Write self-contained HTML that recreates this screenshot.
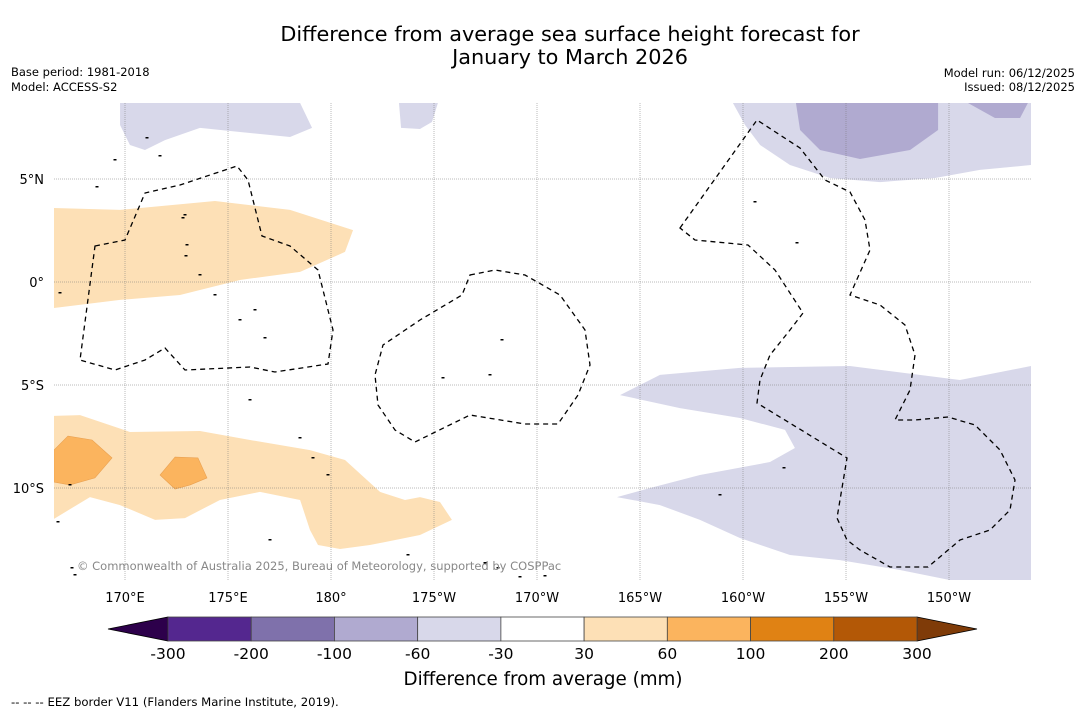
<!DOCTYPE html>
<html><head><meta charset="utf-8">
<style>
body{margin:0;background:#fff;width:1085px;height:713px;overflow:hidden;font-family:"DejaVu Sans","Liberation Sans",sans-serif;}
svg text{font-family:"DejaVu Sans","Liberation Sans",sans-serif;}
</style></head>
<body>
<svg id="chart" width="1085" height="713" viewBox="0 0 1085 713">
<text x="570" y="41" font-size="20.8" text-anchor="middle">Difference from average sea surface height forecast for</text>
<text x="570" y="64" font-size="20.8" text-anchor="middle">January to March 2026</text>
<text x="11" y="76" font-size="11.5">Base period: 1981-2018</text>
<text x="11" y="91" font-size="11.5">Model: ACCESS-S2</text>
<text x="1075" y="77" font-size="11.5" text-anchor="end">Model run: 06/12/2025</text>
<text x="1075" y="91" font-size="11.5" text-anchor="end">Issued: 08/12/2025</text>
<g id="map"></g>
<g id="cbar"></g>
<text x="543" y="685" font-size="18.3" text-anchor="middle">Difference from average (mm)</text>
<text x="11" y="706" font-size="11.7">--  --  -- EEZ border V11 (Flanders Marine Institute, 2019).</text>
</svg>
<script>
const NS='http://www.w3.org/2000/svg';
const lonTicks=[170,175,180,185,190,195,200,205,210];
const lonLabels=['170°E','175°E','180°','175°W','170°W','165°W','160°W','155°W','150°W'];
const latTicks=[5,0,-5,-10];
const latLabels=['5°N','0°','5°S','10°S'];
const cbLevels=['-300','-200','-100','-60','-30','30','60','100','200','300'];
const cbColors=['#54278f','#7f71ab','#b0aad0','#d8d8ea','#ffffff','#fde0b6','#fbb45e','#e08214','#b35806'];
const fillLightOrange=[[166.55,3.59],[169.76,3.50],[174.37,3.93],[178.01,3.50],[181.07,2.52],[180.68,1.46],[178.5,0.49],[175.58,0.10],[172.67,-0.63],[169.76,-0.87],[166.55,-1.26]];
const fillLightOrange2=[[166.55,-6.50],[167.82,-6.46],[170.24,-7.28],[173.64,-7.23],[176.07,-7.67],[178.98,-8.16],[180.68,-8.64],[182.38,-10.19],[183.59,-10.58],[184.32,-10.44],[185.29,-10.68],[185.87,-11.55],[184.32,-12.28],[181.89,-12.77],[180.44,-12.96],[179.37,-12.77],[178.98,-12.04],[178.5,-10.58],[176.55,-10.19],[174.61,-10.58],[172.91,-11.46],[171.46,-11.55],[169.76,-10.83],[168.30,-10.44],[166.55,-11.50]];
const fillOrangeA=[[166.55,-8.16],[167.23,-7.48],[168.40,-7.67],[169.37,-8.54],[168.54,-9.51],[167.33,-9.85],[166.55,-9.71]];
const fillOrangeB=[[171.70,-9.37],[172.43,-8.50],[173.54,-8.54],[173.98,-9.51],[173.16,-9.85],[172.43,-10.05]];
const fillLilac1=[[169.76,8.69],[178.5,8.69],[179.08,7.48],[178.01,7.04],[175.58,7.28],[173.64,7.48],[171.94,6.89],[170.97,6.41],[170.24,6.65],[169.76,7.62]];
const fillLilac2=[[183.30,8.69],[185.19,8.69],[184.90,7.77],[184.32,7.43],[183.40,7.48]];
const fillLilac3=[[199.51,8.69],[213.98,8.69],[213.98,5.68],[211.50,5.44],[209.32,5.05],[206.65,4.85],[204.22,5.05],[202.28,5.68],[200.83,6.65],[200.10,7.62]];
const fillLilac4=[[194.03,-5.49],[195.97,-4.51],[199.85,-4.17],[205.19,-4.08],[210.53,-4.76],[213.98,-4.08],[213.98,-14.47],[210.05,-14.47],[207.62,-13.98],[204.71,-13.50],[202.28,-13.25],[199.85,-12.43],[197.91,-11.55],[195.97,-10.83],[193.88,-10.44],[195.49,-10.0],[197.91,-9.37],[201.31,-8.74],[202.52,-8.06],[202.04,-7.18],[199.85,-6.60],[196.94,-6.12]];
const fillPurple1=[[202.57,8.69],[209.47,8.69],[209.47,7.38],[208.11,6.41],[205.68,5.97],[203.74,6.41],[202.77,7.38]];
const fillPurple2=[[210.92,8.69],[213.83,8.69],[213.45,7.96],[212.23,7.96]];
const X=lon=>125+(lon-170)*20.6;
const Y=lat=>282-lat*20.6;
const map=document.getElementById('map');
function mk(tag,attrs,parent){const e=document.createElementNS(NS,tag);for(const k in attrs)e.setAttribute(k,attrs[k]);(parent||map).appendChild(e);return e;}
const cp=mk('clipPath',{id:'clip'});mk('rect',{x:54,y:103,width:977,height:477},cp);
const g=mk('g',{'clip-path':'url(#clip)'});
function poly(pts,fill,name){const p=mk('polygon',{points:pts.map(q=>X(q[0])+','+Y(q[1])).join(' '),fill:fill,stroke:fill==='#fbb45e'?'#e9a050':'none','stroke-width':0.6},g);

}
poly(fillLightOrange,'#fde0b6','anomaly-30-60-north');
poly(fillLightOrange2,'#fde0b6','anomaly-30-60-south');
poly(fillOrangeA,'#fbb45e','anomaly-60-100-a');
poly(fillOrangeB,'#fbb45e','anomaly-60-100-b');
poly(fillLilac1,'#d8d8ea','anomaly-neg30-60-nw');
poly(fillLilac2,'#d8d8ea','anomaly-neg30-60-small');
poly(fillLilac3,'#d8d8ea','anomaly-neg30-60-ne');
poly(fillLilac4,'#d8d8ea','anomaly-neg30-60-se');
poly(fillPurple1,'#b0aad0','anomaly-neg60-100-a');
poly(fillPurple2,'#b0aad0','anomaly-neg60-100-b');
lonTicks.forEach((lo,i)=>{const l=mk('line',{x1:X(lo),x2:X(lo),y1:103,y2:580,stroke:'#777','stroke-width':0.5,'stroke-dasharray':'1,1'},g);


const t=mk('text',{x:X(lo),y:602,'font-size':13,'text-anchor':'middle'});t.textContent=lonLabels[i];

});
latTicks.forEach((la,i)=>{const l=mk('line',{x1:54,x2:1031,y1:Y(la),y2:Y(la),stroke:'#777','stroke-width':0.5,'stroke-dasharray':'1,1'},g);


const t=mk('text',{x:44,y:Y(la)+5,'font-size':13,'text-anchor':'end'});t.textContent=latLabels[i];

});
const eez=['M95,246 L125,240 L145,193 L180,185 L237,166 L248,180 L262,236 L290,246 L318,270 L328,310 L333,330 L328,364 L275,372 L250,367 L185,370 L165,348 L145,360 L115,370 L80,360 Z',
'M470,275 L495,270 L525,275 L560,295 L585,330 L590,365 L578,395 L558,424 L525,424 L470,415 L415,442 L395,430 L378,405 L375,375 L383,345 L420,320 L462,295 Z',
'M680,228 L757,120 L800,148 L825,180 L850,192 L865,220 L870,250 L850,295 L880,305 L905,325 L915,355 L910,390 L895,420 L915,420 L948,417 L975,425 L1000,450 L1015,480 L1010,510 L990,530 L960,540 L928,567 L890,567 L860,550 L847,540 L837,518 L847,458 L757,403 L760,380 L770,355 L790,330 L803,313 L775,270 L748,245 L695,240 Z'];
eez.forEach(d=>{const p=mk('path',{d:d,fill:'none',stroke:'#000','stroke-width':1.3,'stroke-dasharray':'5,4'},g);

});
const isl=[[147,138],[160,156],[185,215],[187,245],[200,275],[215,295],[240,320],[255,310],[265,338],[250,400],[300,438],[313,458],[328,475],[502,340],[490,375],[443,378],[485,563],[498,568],[408,555],[520,577],[545,576],[72,568],[58,522],[70,485],[755,202],[797,243],[784,468],[720,495],[115,160],[97,187],[60,293],[186,256],[183,218],[270,540],[75,575]];
isl.forEach(q=>{const c=mk('rect',{x:q[0]-1.5,y:q[1]-1,width:3,height:1.5,fill:'#000'},g);

});
const cr=mk('text',{x:77,y:570,'font-size':11.5,fill:'#888'},g);cr.textContent='© Commonwealth of Australia 2025, Bureau of Meteorology, supported by COSPPac';


const cb=document.getElementById('cbar');
const x0=168,x1=917,w=(x1-x0)/cbColors.length;
mk('polygon',{points:'108,629 168,617 168,641',fill:'#2d004b',stroke:'#000','stroke-width':0.8},cb);
mk('polygon',{points:'917,617 977,629 917,641',fill:'#7f3b08',stroke:'#000','stroke-width':0.8},cb);
cbColors.forEach((c,i)=>{const r=mk('rect',{x:x0+i*w,y:617,width:w,height:24,fill:c,stroke:'#444','stroke-width':0.8},cb);

});
cbLevels.forEach((v,i)=>{const t=mk('text',{x:x0+i*w,y:659,'font-size':15.5,'text-anchor':'middle'},cb);t.textContent=v;

});
</script>
</body></html>
